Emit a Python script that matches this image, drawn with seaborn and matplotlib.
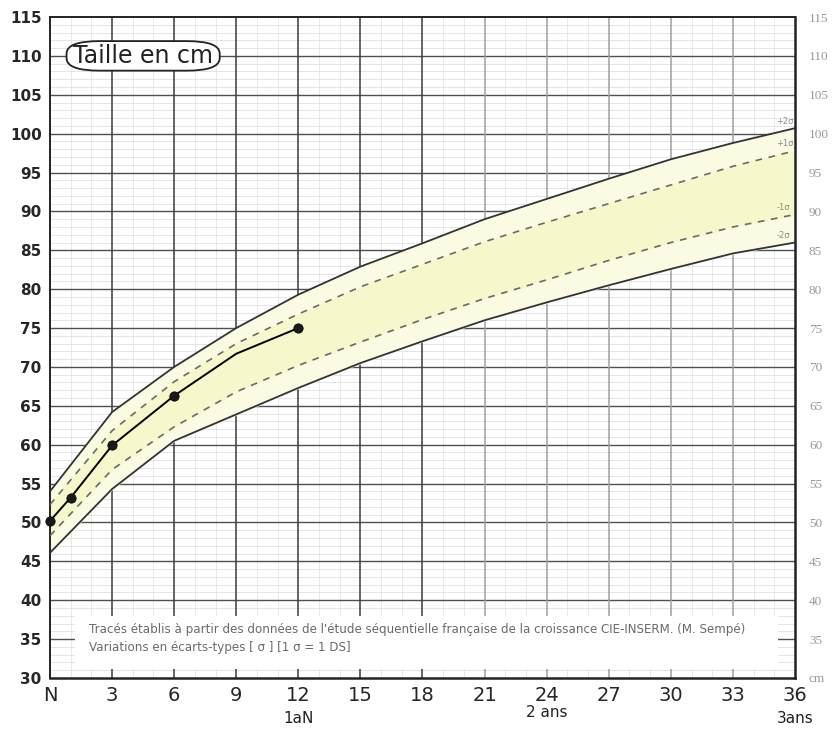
import numpy as np
import pandas as pd
import matplotlib
matplotlib.use("Agg")
import matplotlib.pyplot as plt
from matplotlib.patches import FancyBboxPatch
import seaborn as sns

# reference curves (cm), read every 3 months
months = [0, 3, 6, 9, 12, 15, 18, 21, 24, 27, 30, 33, 36]
plus_2sd = [54.0, 64.2, 70.0, 75.0, 79.3, 82.9, 85.9, 89.0, 91.6, 94.2, 96.7, 98.8, 100.7]
plus_1sd = [52.3, 61.8, 68.1, 73.0, 76.8, 80.3, 83.2, 86.1, 88.6, 91.0, 93.4, 95.8, 97.8]
minus_1sd = [48.3, 56.8, 62.3, 66.8, 70.2, 73.2, 76.1, 78.8, 81.2, 83.7, 86.0, 88.0, 89.6]
minus_2sd = [46.1, 54.3, 60.5, 63.9, 67.3, 70.5, 73.3, 76.0, 78.3, 80.5, 82.6, 84.6, 86.0]

# child measurements
child_months = [0, 1, 3, 6, 12]
child_height = [50.2, 53.2, 59.9, 66.3, 75.0]
# drawn line also bends through month 9
line_months = [0, 1, 3, 6, 9, 12]
line_height = [50.2, 53.2, 59.9, 66.3, 71.7, 75.0]

x_ticks = list(range(0, 37, 3))
x_labels = ["N"] + [str(m) for m in x_ticks[1:]]
y_ticks = list(range(30, 116, 5))

curves = pd.DataFrame({"mois": months, "+2σ": plus_2sd, "+1σ": plus_1sd,
                       "-1σ": minus_1sd, "-2σ": minus_2sd})
child = pd.DataFrame({"mois": child_months, "taille": child_height})
child_line = pd.DataFrame({"mois": line_months, "taille": line_height})

sns.set_style("white")
plt.rcParams["font.family"] = ["DejaVu Sans"]

fig = plt.figure(figsize=(8.37, 7.33), dpi=100)
ax = fig.add_axes([50 / 837, 1 - 678 / 733, 745 / 837, 661 / 733])
ax.set_xlim(0, 36)
ax.set_ylim(30, 115)

# grid paper
for v in range(31, 115):
    if v % 5:
        ax.axhline(v, color="#dadada", lw=0.5, zorder=0)
for v in range(35, 115, 5):
    ax.axhline(v, color="#505050", lw=1.0, zorder=0.5)
for m in range(1, 36):
    if m % 3:
        ax.axvline(m, color="#dedede", lw=0.5, zorder=0)
for m in range(3, 36, 3):
    c = "#3a3a3a" if m <= 18 else "#a0a0a0"
    ax.axvline(m, color=c, lw=1.1, zorder=0.5)

# yellow bands
ax.fill_between(months, minus_2sd, plus_2sd, color="#fbfbe4", zorder=1)
ax.fill_between(months, minus_1sd, plus_1sd, color="#f7f7cc", zorder=1)

sns.lineplot(data=curves, x="mois", y="+2σ", ax=ax, color="#333333", lw=1.3, zorder=3)
sns.lineplot(data=curves, x="mois", y="-2σ", ax=ax, color="#333333", lw=1.3, zorder=3)
sns.lineplot(data=curves, x="mois", y="+1σ", ax=ax, color="#6a6a6a", lw=1.2,
             zorder=3).lines[-1].set_dashes((4, 4))
sns.lineplot(data=curves, x="mois", y="-1σ", ax=ax, color="#6a6a6a", lw=1.2,
             zorder=3).lines[-1].set_dashes((4, 4))

for name, vals in [("+2σ", plus_2sd), ("+1σ", plus_1sd), ("-1σ", minus_1sd), ("-2σ", minus_2sd)]:
    ax.text(35.1, vals[-1] + 0.3, name, fontsize=6, color="#8a8a8a", ha="left", va="bottom", zorder=4)

sns.lineplot(data=child_line, x="mois", y="taille", ax=ax, color="black", lw=1.4, zorder=5)
sns.scatterplot(data=child, x="mois", y="taille", ax=ax, color="#1a1a1a", s=45,
                edgecolor="black", zorder=6, clip_on=False)

# title bubble
ax.add_patch(FancyBboxPatch((1.0, 108.3), 7.0, 3.4, boxstyle="round,pad=0.2,rounding_size=1.6",
                            fc="white", ec="#222222", lw=1.3, zorder=7))
ax.text(4.5, 110.0, "Taille en cm", fontsize=17, ha="center", va="center",
        color="#222222", zorder=8)

# source note
ax.add_patch(plt.Rectangle((1.2, 31.2), 34.0, 6.8, fc="white", ec="none", zorder=7))
ax.text(1.9, 36.3, "Tracés établis à partir des données de l'étude séquentielle française "
        "de la croissance CIE-INSERM. (M. Sempé)", fontsize=8.6, color="#6a6a6a",
        va="center", zorder=8)
ax.text(1.9, 33.9, "Variations en écarts-types [ σ ] [1 σ = 1 DS]", fontsize=8.6,
        color="#6a6a6a", va="center", zorder=8)

ax.set_xticks(x_ticks)
ax.set_xticklabels(x_labels, fontsize=14)
ax.set_yticks(y_ticks)
ax.set_yticklabels([str(v) for v in y_ticks], fontsize=11, fontweight="bold")
ax.tick_params(axis="both", length=0, pad=6)
ax.set_xlabel("")
ax.set_ylabel("")

for lbl, m, yy in [("1aN", 12, -0.062), ("2 ans", 24, -0.052), ("3ans", 36, -0.062)]:
    ax.text(m, yy, lbl, transform=ax.get_xaxis_transform(), fontsize=11,
            ha="center", va="center", color="#222222")

for s in ["left", "bottom", "right", "top"]:
    ax.spines[s].set_visible(True)
    ax.spines[s].set_color("#222222")
ax.spines["left"].set_linewidth(1.4)
ax.spines["bottom"].set_linewidth(1.8)
ax.spines["right"].set_linewidth(1.8)
ax.spines["top"].set_linewidth(1.4)

ax2 = ax.twinx()
ax2.set_ylim(30, 115)
ax2.set_yticks(y_ticks)
ax2.set_yticklabels(["cm"] + [str(v) for v in y_ticks[1:]], fontsize=9.5,
                    color="#9a9a9a", family="Liberation Serif")
ax2.tick_params(axis="y", length=0, pad=10)
for s in ax2.spines.values():
    s.set_visible(False)

fig.savefig("out.png", dpi=100)
